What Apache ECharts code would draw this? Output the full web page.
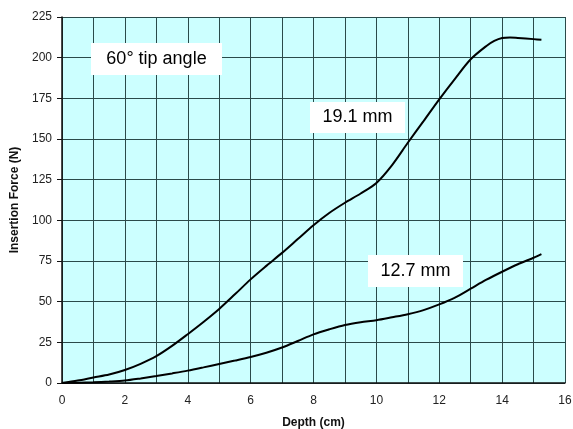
<!DOCTYPE html>
<html><head><meta charset="utf-8">
<script src="https://cdn.jsdelivr.net/npm/echarts@6/dist/echarts.min.js"></script>
<style>html,body{margin:0;padding:0;background:#fff}#c{width:573px;height:429px}</style>
</head><body><div id="c"></div>
<script>
const depth191 = [0,0.5,1,1.5,2,2.5,3,3.5,4,4.5,5,5.5,6,6.5,7,7.5,8,8.5,9,9.5,10,10.5,11,11.5,12,12.5,13,13.5,13.75,14,14.25,14.5,15,15.25];
const force191 = [0,1.5,3.4,5.2,8,11.8,16.5,22.8,30,37.5,45.5,54.5,63.7,72,80,88.5,97,104.5,110.8,116.5,123,134,147.7,161,174.4,187,199,207.2,210.3,212.1,212.4,212.1,211.4,211];
const depth127 = [0,0.5,1,1.5,2,2.5,3,3.5,4,4.5,5,5.5,6,6.5,7,7.5,8,8.5,9,9.5,10,10.5,11,11.5,12,12.5,13,13.5,14,14.5,15,15.25];
const force127 = [0,0.2,0.5,0.9,1.5,2.8,4.3,5.9,7.6,9.6,11.7,13.8,16,18.6,21.8,25.8,29.9,33,35.7,37.4,38.6,40.4,42.3,44.8,48.3,52.5,58,63.5,68.4,73,77,79.2];
const labels = [
  {text:'60° tip angle', x:91, y:43, w:131, h:32},
  {text:'19.1 mm', x:310, y:102, w:95, h:31},
  {text:'12.7 mm', x:368, y:255, w:95, h:32}
];
const chart = echarts.init(document.getElementById('c'));
const font = 'Liberation Sans, Arial, sans-serif';
chart.setOption({
  animation:false,
  grid:{left:62,right:8,top:17,bottom:46,show:true,backgroundColor:'#ccffff',borderWidth:0,outerBoundsMode:'none',containLabel:false},
  xAxis:{type:'value',min:0,max:16,interval:1,
    name:'Depth (cm)',nameLocation:'middle',nameGap:34,
    nameTextStyle:{fontFamily:font,fontWeight:'bold',fontSize:12,color:'#111'},
    axisLine:{lineStyle:{color:'#111',width:1.5}},
    axisTick:{show:false},
    axisLabel:{fontFamily:font,fontSize:12,color:'#222',margin:12,formatter:v=>v%2===0?String(v):''},
    splitLine:{show:true,lineStyle:{color:'#2a4a4a',width:1}}},
  yAxis:{type:'value',min:0,max:225,interval:25,
    name:'Insertion Force (N)',nameLocation:'middle',nameGap:38,
    nameTextStyle:{fontFamily:font,fontWeight:'bold',fontSize:12,color:'#111'},
    axisLine:{show:true,lineStyle:{color:'#111',width:1.5}},
    axisTick:{show:true,length:5,lineStyle:{color:'#111'}},
    axisLabel:{fontFamily:font,fontSize:12,color:'#222',margin:10},
    splitLine:{show:true,lineStyle:{color:'#2a4a4a',width:1}}},
  series:[
    {type:'line',data:depth191.map((d,i)=>[d,force191[i]]),showSymbol:false,smooth:0.3,lineStyle:{color:'#000',width:2}},
    {type:'line',data:depth127.map((d,i)=>[d,force127[i]]),showSymbol:false,smooth:0.3,lineStyle:{color:'#000',width:2}}
  ],
  graphic: labels.map(l=>({type:'group',x:l.x,y:l.y,children:[
    {type:'rect',z:100,zlevel:1,shape:{x:0,y:0,width:l.w,height:l.h},style:{fill:'#fff'}},
    {type:'text',z:101,zlevel:1,x:l.w/2,y:l.h/2,style:{text:l.text,fontFamily:font,fontSize:18,fill:'#000',align:'center',verticalAlign:'middle'}}
  ]}))
});
</script></body></html>
